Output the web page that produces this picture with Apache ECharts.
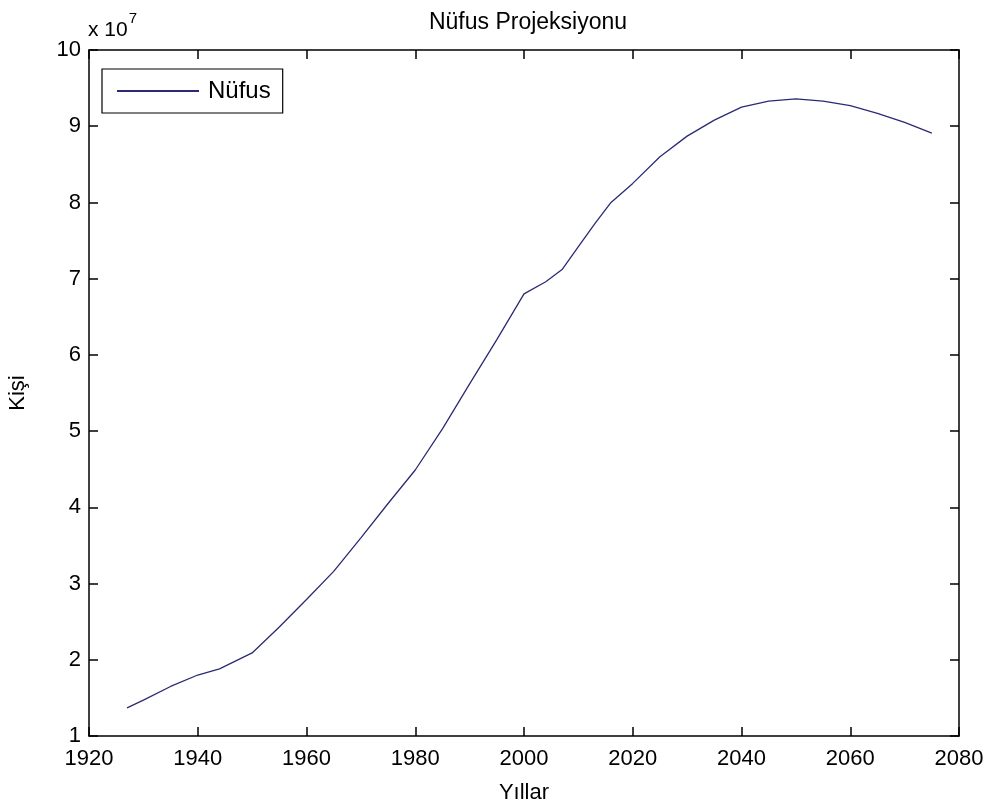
<!DOCTYPE html>
<html><head><meta charset="utf-8">
<script src="https://cdn.jsdelivr.net/npm/echarts@6/dist/echarts.min.js"></script>
<style>html,body{margin:0;padding:0;background:#fff}#c{width:995px;height:807px}</style>
</head><body><div id="c"></div>
<script>
const years = [1927,1930,1935,1940,1944,1950,1955,1960,1965,1970,1975,1980,1985,1990,1995,2000,2004,2007,2010,2013,2016,2020,2025,2030,2035,2040,2045,2050,2055,2060,2065,2070,2075];
const population = [1.37e7,1.47e7,1.65e7,1.80e7,1.88e7,2.09e7,2.43e7,2.79e7,3.16e7,3.60e7,4.05e7,4.49e7,5.03e7,5.62e7,6.20e7,6.80e7,6.96e7,7.12e7,7.42e7,7.72e7,8.00e7,8.25e7,8.60e7,8.87e7,9.08e7,9.25e7,9.33e7,9.36e7,9.33e7,9.27e7,9.17e7,9.05e7,8.91e7];
const xTicks = [1920,1940,1960,1980,2000,2020,2040,2060,2080];
const yTicks = [1,2,3,4,5,6,7,8,9,10];
const scale = 1e7;

const font = 'Liberation Sans, Arial, sans-serif';
const chart = echarts.init(document.getElementById('c'), null, {renderer:'canvas'});
const axisLine = {show:true, lineStyle:{color:'#000', width:1.5}};
const axisTick = {show:true, inside:true, length:9, lineStyle:{color:'#000', width:1.5}};
chart.setOption({
  backgroundColor:'#fff',
  animation:false,
  title:{text:'Nüfus Projeksiyonu', left:523, top:6, textAlign:'center',
    textStyle:{fontFamily:font, fontSize:23, fontWeight:'normal', color:'#000'}},
  grid:{left:89, right:36, top:50, bottom:71, containLabel:false, outerBoundsMode:'none'},
  legend:{data:['Nüfus'], left:102, top:69, orient:'vertical',
    backgroundColor:'#fff', borderColor:'#000', borderWidth:1.2, padding:[10,12,10,15],
    itemWidth:82, itemHeight:2, icon:'rect', itemGap:0,
    textStyle:{fontFamily:font, fontSize:24, color:'#000', padding:[0,0,0,4]}},
  xAxis:[
    {type:'value', min:xTicks[0], max:xTicks[xTicks.length-1], interval:20,
     name:'Yıllar', nameLocation:'middle', nameGap:46,
     nameTextStyle:{fontFamily:font, fontSize:22, color:'#000'},
     axisLine, axisTick, splitLine:{show:false},
     axisLabel:{fontFamily:font, fontSize:22, color:'#000', margin:12, formatter:v=>String(v)}},
    {type:'value', position:'top', min:xTicks[0], max:xTicks[xTicks.length-1], interval:20,
     axisLine, axisTick, axisLabel:{show:false}, splitLine:{show:false}}
  ],
  yAxis:[
    {type:'value', min:yTicks[0]*scale, max:yTicks[yTicks.length-1]*scale, interval:scale,
     name:'Kişi', nameLocation:'middle', nameGap:60, nameRotate:90,
     nameTextStyle:{fontFamily:font, fontSize:22, color:'#000'},
     axisLine, axisTick, splitLine:{show:false},
     axisLabel:{fontFamily:font, fontSize:22, color:'#000', margin:8, formatter:v=>String(Math.round(v/scale))}},
    {type:'value', position:'right', min:yTicks[0]*scale, max:yTicks[yTicks.length-1]*scale, interval:scale,
     axisLine, axisTick, axisLabel:{show:false}, splitLine:{show:false}}
  ],
  graphic:[{type:'text', left:88, top:11,
    style:{text:'{a|x 10}{b|7}', rich:{
      a:{fontFamily:font, fontSize:21, fill:'#000', padding:[9,0,0,0]},
      b:{fontFamily:font, fontSize:15, fill:'#000', verticalAlign:'top', padding:[0,0,0,1]}}}}],
  series:[{name:'Nüfus', type:'line', showSymbol:false, smooth:false,
    data: years.map((y,i)=>[y, population[i]]),
    lineStyle:{color:'#2b2b73', width:1.3}, itemStyle:{color:'#2b2b73'}}]
});
</script></body></html>
